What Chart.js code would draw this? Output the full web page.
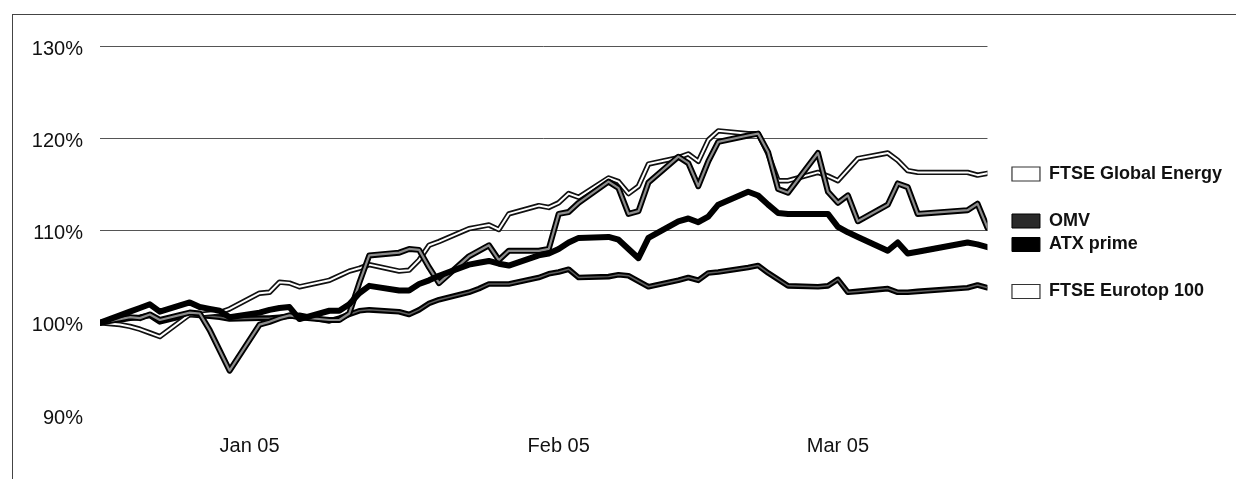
<!DOCTYPE html>
<html>
<head>
<meta charset="utf-8">
<script src="https://cdn.jsdelivr.net/npm/chart.js@4.4.1/dist/chart.umd.min.js"></script>
<style>
html, body { margin: 0; padding: 0; background: #fff; }
#wrap { position: relative; width: 1236px; height: 479px; overflow: hidden; }
#frame { position: absolute; left: 12px; top: 14px; width: 1224px; height: 465px;
         border-top: 1px solid #444; border-left: 1px solid #444; box-sizing: border-box; pointer-events: none; }
canvas { display: block; }
</style>
</head>
<body>
<div id="wrap">
  <canvas id="chart" width="1236" height="479"></canvas>
  <div id="frame"></div>
</div>
<script>
// ---- data (index, 100% = start) ----
const DATES = [
  '2005-01-01','2005-01-03','2005-01-04','2005-01-05','2005-01-06','2005-01-07',
  '2005-01-10','2005-01-11','2005-01-12','2005-01-13','2005-01-14',
  '2005-01-17','2005-01-18','2005-01-19','2005-01-20','2005-01-21',
  '2005-01-24','2005-01-25','2005-01-26','2005-01-27','2005-01-28',
  '2005-01-31','2005-02-01','2005-02-02','2005-02-03','2005-02-04',
  '2005-02-07','2005-02-08','2005-02-09','2005-02-10','2005-02-11',
  '2005-02-14','2005-02-15','2005-02-16','2005-02-17','2005-02-18',
  '2005-02-21','2005-02-22','2005-02-23','2005-02-24','2005-02-25',
  '2005-02-28','2005-03-01','2005-03-02','2005-03-03','2005-03-04',
  '2005-03-07','2005-03-08','2005-03-09','2005-03-10','2005-03-11',
  '2005-03-14','2005-03-15','2005-03-16','2005-03-17','2005-03-18',
  '2005-03-21','2005-03-22','2005-03-23','2005-03-24',
  '2005-03-29','2005-03-30','2005-03-31'
];

const FTSE_GLOBAL_ENERGY = [
  100, 99.8, 99.6, 99.3, 98.9, 98.5,
  100.9, 100.9, 101.0, 101.1, 101.5,
  103.2, 103.3, 104.4, 104.3, 103.9,
  104.6, 105.1, 105.6, 105.9, 106.3,
  105.6, 105.7, 106.8, 108.4, 108.8,
  110.2, 110.4, 110.6, 110.1, 111.8,
  112.7, 112.5, 113.0, 114.0, 113.6,
  115.7, 115.3, 114.0, 114.8, 117.2,
  117.9, 118.3, 117.5, 119.8, 120.8,
  120.5, 120.5, 118.3, 115.4, 115.4,
  116.3, 115.9, 115.4, 116.6, 117.8,
  118.4, 117.6, 116.5, 116.3,
  116.3, 116.0, 116.2
];

const OMV = [
  100, 100.4, 100.6, 100.5, 100.9, 100.3,
  101.1, 101.0, 99.2, 97.0, 94.8,
  99.8, 100.1, 100.5, 100.8, 100.6,
  100.3, 100.3, 101.0, 104.3, 107.3,
  107.6, 108.0, 107.9, 106.0, 104.3,
  107.2, 107.8, 108.4, 106.8, 107.8,
  107.8, 108.0, 111.8, 112.0, 113.0,
  115.3, 114.6, 111.8, 112.1, 115.2,
  118.0, 117.3, 114.8, 117.5, 119.6,
  120.3, 120.5, 118.5, 114.5, 114.1,
  118.4, 114.2, 113.0, 113.8, 111.0,
  112.8, 115.1, 114.7, 111.8,
  112.2, 112.9, 110.3
];

const ATX_PRIME = [
  100, 100.8, 101.2, 101.6, 102.0, 101.2,
  102.2, 101.7, 101.5, 101.3, 100.6,
  101.1, 101.4, 101.6, 101.7, 100.4,
  101.3, 101.3, 102.0, 103.2, 104.0,
  103.5, 103.5, 104.2, 104.6, 105.1,
  106.3, 106.5, 106.7, 106.4, 106.2,
  107.3, 107.5, 108.0, 108.7, 109.2,
  109.3, 109.0, 108.0, 107.0, 109.2,
  111.0, 111.3, 110.9, 111.5, 112.8,
  114.2, 113.8, 112.8, 111.9, 111.8,
  111.8, 111.8, 110.4, 109.8, 109.3,
  107.8, 108.7, 107.5, 107.7,
  108.7, 108.5, 108.2
];

const FTSE_EUROTOP_100 = [
  100, 100.3, 100.5, 100.6, 100.8, 100.1,
  100.9, 100.8, 100.7, 100.6, 100.4,
  100.5, 100.5, 100.6, 100.7, 100.8,
  100.2, 100.5, 100.9, 101.3, 101.4,
  101.2, 100.9, 101.4, 102.1, 102.5,
  103.3, 103.7, 104.2, 104.2, 104.2,
  104.9, 105.3, 105.5, 105.8, 104.9,
  105.0, 105.2, 105.1, 104.5, 103.9,
  104.6, 104.9, 104.6, 105.4, 105.5,
  106.0, 106.2, 105.4, 104.7, 104.0,
  103.9, 104.0, 104.7, 103.3, 103.4,
  103.7, 103.3, 103.3, 103.4,
  103.8, 104.1, 103.8
];

const SERIES_NAMES = ['FTSE Global Energy', 'OMV', 'ATX prime', 'FTSE Eurotop 100'];
const MONTH_LABELS = ['Jan 05', 'Feb 05', 'Mar 05'];
const MONTH_LABEL_DATES = ['2005-01-16', '2005-02-16', '2005-03-16'];
const Y_TICKS = [90, 100, 110, 120, 130];
const Y_GRID = [110, 120, 130];

// ---- helpers ----
const FONT = "'Liberation Sans', Arial, Helvetica, sans-serif";
const day = s => (Date.parse(s) - Date.parse(DATES[0])) / 86400000;
const pts = arr => arr.map((v, i) => ({ x: day(DATES[i]), y: v }));

const base = { pointRadius: 0, pointHoverRadius: 0, tension: 0, fill: false,
               borderJoinStyle: 'round', borderCapStyle: 'round' };

const datasets = [
  Object.assign({ label: SERIES_NAMES[2], data: pts(ATX_PRIME), borderColor: '#000', borderWidth: 6, order: 1 }, base),
  Object.assign({ label: SERIES_NAMES[1], data: pts(OMV), borderColor: '#8c8c8c', borderWidth: 2.2, order: 3 }, base),
  Object.assign({ label: SERIES_NAMES[1] + ' outline', data: pts(OMV), borderColor: '#000', borderWidth: 6, order: 4 }, base),
  Object.assign({ label: SERIES_NAMES[0], data: pts(FTSE_GLOBAL_ENERGY), borderColor: '#fff', borderWidth: 2, order: 5 }, base),
  Object.assign({ label: SERIES_NAMES[0] + ' outline', data: pts(FTSE_GLOBAL_ENERGY), borderColor: '#111', borderWidth: 5.4, order: 6 }, base),
  Object.assign({ label: SERIES_NAMES[3], data: pts(FTSE_EUROTOP_100), borderColor: '#5e5e5e', borderWidth: 1.5, order: 7 }, base),
  Object.assign({ label: SERIES_NAMES[3] + ' outline', data: pts(FTSE_EUROTOP_100), borderColor: '#000', borderWidth: 5.6, order: 8 }, base)
];

const LEGEND_ITEMS = [
  { text: SERIES_NAMES[0], fill: '#ffffff', stroke: '#333', lw: 1.2 },
  { text: '', fill: 'rgba(0,0,0,0)', stroke: 'rgba(0,0,0,0)', lw: 0 },
  { text: SERIES_NAMES[1], fill: '#2a2a2a', stroke: '#000', lw: 1 },
  { text: SERIES_NAMES[2], fill: '#000000', stroke: '#000', lw: 1 },
  { text: '', fill: 'rgba(0,0,0,0)', stroke: 'rgba(0,0,0,0)', lw: 0 },
  { text: SERIES_NAMES[3], fill: '#ffffff', stroke: '#333', lw: 1.2 }
];

new Chart(document.getElementById('chart'), {
  type: 'line',
  data: { datasets },
  options: {
    responsive: false,
    animation: false,
    events: [],
    layout: { padding: { top: 46, right: 4, bottom: 2, left: 0 } },
    scales: {
      x: {
        type: 'linear',
        min: day(DATES[0]),
        max: day(DATES[DATES.length - 1]),
        afterBuildTicks: s => { s.ticks = MONTH_LABEL_DATES.map(d => ({ value: day(d) })); },
        ticks: {
          callback: (v, i) => MONTH_LABELS[i],
          autoSkip: false, maxRotation: 0, minRotation: 0,
          color: '#111', font: { family: FONT, size: 20 }, padding: 19
        },
        grid: { display: false, drawTicks: false },
        border: { display: false }
      },
      y: {
        type: 'linear',
        position: 'left',
        min: 90, max: 130,
        afterBuildTicks: s => { s.ticks = Y_TICKS.map(v => ({ value: v })); },
        afterFit: s => { s.width = 100; },
        ticks: {
          callback: v => v + '%',
          color: '#111', font: { family: FONT, size: 20 }, padding: 17, labelOffset: 3
        },
        grid: {
          drawTicks: false,
          lineWidth: 1,
          color: c => (c.tick && Y_GRID.includes(c.tick.value)) ? '#555' : 'rgba(0,0,0,0)'
        },
        border: { display: false }
      },
      gap: {
        type: 'linear',
        position: 'right',
        display: true,
        grid: { display: false, drawTicks: false },
        border: { display: false },
        ticks: { display: false },
        afterFit: s => { s.width = 19; }
      }
    },
    plugins: {
      tooltip: { enabled: false },
      legend: {
        position: 'right',
        align: 'start',
        maxWidth: 260,
        onClick: null,
        title: { display: true, text: '', font: { size: 10 }, padding: { top: 101.5, bottom: 0 } },
        labels: {
          boxWidth: 28, boxHeight: 14, padding: 5.5,
          color: '#111',
          font: { family: FONT, size: 18, weight: 'bold' },
          generateLabels: () => LEGEND_ITEMS.map(it => ({
            text: it.text, fillStyle: it.fill, strokeStyle: it.stroke, lineWidth: it.lw,
            fontColor: '#111', hidden: false
          }))
        }
      }
    }
  }
});
</script>
</body>
</html>
